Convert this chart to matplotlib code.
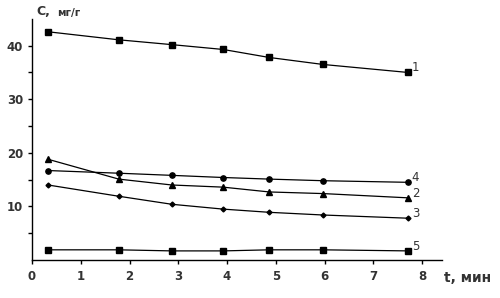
import matplotlib
matplotlib.use("Agg")
from matplotlib import pyplot as plt

# time, min
t = [0.33, 1.78, 2.87, 3.92, 4.87, 5.97, 7.72]

# sorption capacity, mg/g
c1 = [42.6, 41.1, 40.2, 39.3, 37.8, 36.5, 35.0]
c2 = [18.8, 15.1, 14.0, 13.6, 12.7, 12.4, 11.6]
c3 = [14.0, 11.9, 10.4, 9.5, 8.9, 8.4, 7.8]
c4 = [16.7, 16.2, 15.8, 15.4, 15.1, 14.8, 14.5]
c5 = [1.9, 1.9, 1.7, 1.7, 1.9, 1.9, 1.7]

series = [(c1, "1", "s", 3.8), (c2, "2", "^", 3.8), (c3, "3", "D", 2.5),
          (c4, "4", "o", 3.8), (c5, "5", "s", 4.2)]

fig = plt.figure(figsize=(5.0, 2.98), dpi=100)
ax = fig.add_axes([0.064, 0.1275, 0.819, 0.809])

for vals, name, mk, ms in series:
    ax.plot(t, vals, color="black", lw=0.9, marker=mk, ms=ms)
    ax.text(t[-1] + 0.07, vals[-1] + 0.9, name, fontsize=8.5, color="#333333",
            ha="left", va="center")

ax.set_xlim(0, 8.4)
ax.set_ylim(0, 45)
ax.set_xticks(range(0, 9))
ax.set_yticks([10, 20, 30, 40])
ax.set_yticks([5, 15, 25, 35], minor=True)

for side in ("top", "right"):
    ax.spines[side].set_visible(False)
for side in ("left", "bottom"):
    ax.spines[side].set_linewidth(1.0)

ax.tick_params(axis="both", which="both", direction="out", length=3, width=1.0,
               labelsize=8.5, colors="black", labelcolor="#333333")
ax.tick_params(axis="x", pad=4)
for lab in ax.get_xticklabels() + ax.get_yticklabels():
    lab.set_fontweight("bold")

fig.text(0.072, 0.962, "C,", fontsize=9, fontweight="bold", color="#333333",
         ha="left", va="center")
fig.text(0.114, 0.958, "мг/г", fontsize=7.5, fontweight="bold", color="#333333",
         ha="left", va="center")
fig.text(0.888, 0.068, "t, мин", fontsize=10, fontweight="bold", color="#333333",
         ha="left", va="center")

fig.savefig("out.png", dpi=100)
